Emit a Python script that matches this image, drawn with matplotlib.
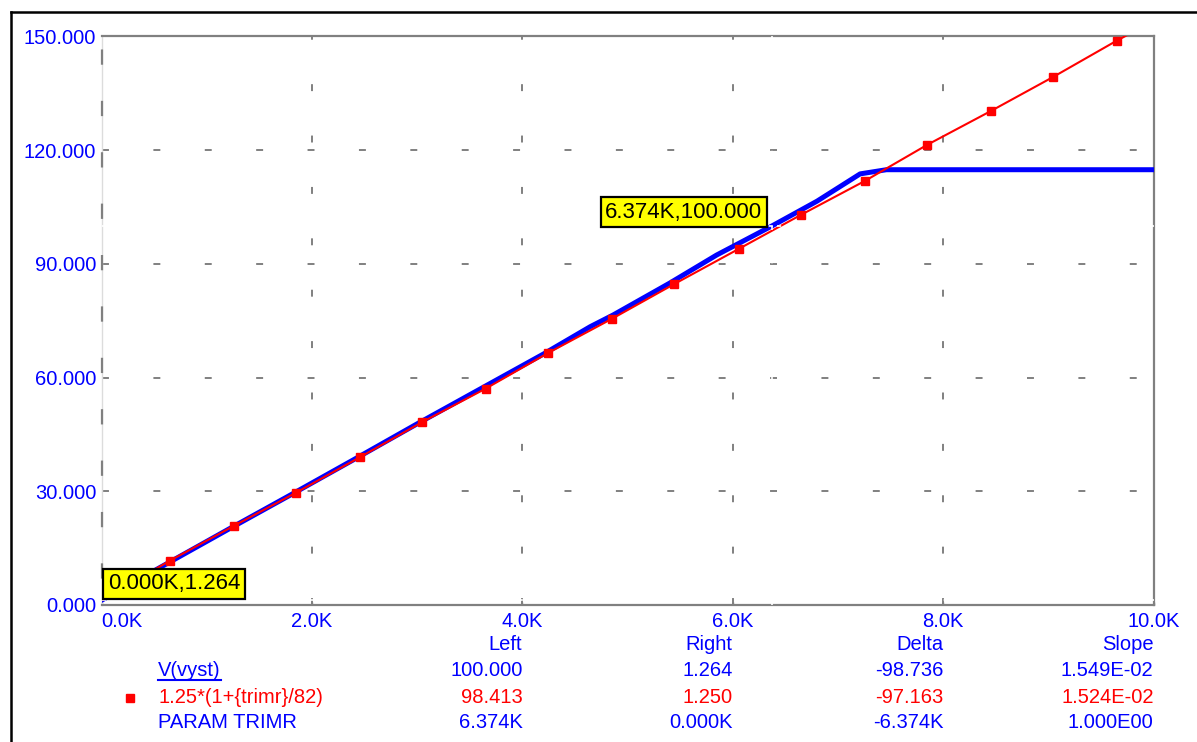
import matplotlib
matplotlib.use("Agg")
import matplotlib.pyplot as plt
from matplotlib.lines import Line2D
from matplotlib.transforms import blended_transform_factory

plt.rcParams["font.family"] = ["Liberation Sans", "DejaVu Sans"]
plt.rcParams["lines.scale_dashes"] = False

BLUE = "#0000ff"
RED = "#ff0000"
GRAY = "#808080"
FS = 14.5

W, H = 1197, 742

# trimr sweep (K) against V(vyst)
vyst_x = [0.0, 0.6, 1.2, 1.8, 2.4, 3.0, 3.6, 4.2, 4.644, 4.863, 5.4, 5.846,
          6.374, 6.8, 7.21, 7.46, 10.0]
vyst_y = [1.264, 10.6, 19.9, 29.1, 38.4, 47.8, 57.0, 66.2, 73.4, 76.5, 84.9,
          92.3, 100.0, 106.5, 113.7, 114.8, 114.8]

# 1.25*(1+{trimr}/82), marker samples plus the end points of the trace
calc_x = [0.0, 0.648, 1.254, 1.848, 2.454, 3.045, 3.650, 4.245, 4.854, 5.441,
          6.057, 6.648, 7.257, 7.848, 8.457, 9.048, 9.648, 10.0]
calc_y = [1.25, 11.69, 20.84, 29.63, 38.97, 48.21, 57.07, 66.49, 75.54, 84.62,
          93.93, 102.90, 111.87, 121.37, 130.34, 139.31, 148.81, 154.0]

x_ticks = [0, 2, 4, 6, 8, 10]
x_labels = ["0.0K", "2.0K", "4.0K", "6.0K", "8.0K", "10.0K"]
y_ticks = [0, 30, 60, 90, 120, 150]
y_labels = ["0.000", "30.000", "60.000", "90.000", "120.000", "150.000"]

# cursor readouts
cursor_a = (6.374, 100.0)
cursor_b = (0.0, 1.264)
columns = ["Left", "Right", "Delta", "Slope"]
column_x = [4.0, 6.0, 8.0, 10.0]
trace_names = ["V(vyst)", "1.25*(1+{trimr}/82)", "PARAM TRIMR"]
trace_colors = [BLUE, RED, BLUE]
readouts = [
    ["100.000", "1.264", "-98.736", "1.549E-02"],
    ["98.413", "1.250", "-97.163", "1.524E-02"],
    ["6.374K", "0.000K", "-6.374K", "1.000E00"],
]

fig = plt.figure(figsize=(W / 100, H / 100), dpi=100)
ax = fig.add_axes([101.7 / W, (H - 605) / H, (1153.6 - 101.7) / W, (605 - 36.25) / H])
ax.set_xlim(0, 10)
ax.set_ylim(0, 150)

# dashed grid
for yv in y_ticks[1:-1]:
    ax.axhline(yv, color=GRAY, lw=1.4, ls=(0, (5, 32)), zorder=1)
for xv in x_ticks[1:-1]:
    ax.axvline(xv, color=GRAY, lw=1.4, ls=(0, (5, 32)), zorder=1)
ax.axvline(0, color=GRAY, lw=1.6, ls=(18, (11, 26)), zorder=2.6, clip_on=False)

ax.plot(vyst_x, vyst_y, color=BLUE, lw=3.6, zorder=3, solid_joinstyle="round")
ax.plot(calc_x, calc_y, color=RED, lw=1.5, marker="s", ms=6,
        markevery=list(range(1, len(calc_x) - 1)), zorder=4)

# cursor crosshairs
ax.axvline(cursor_a[0], color="white", lw=1.2, ls=(0, (3, 3)), zorder=5)
ax.axhline(cursor_a[1], color="white", lw=1.2, ls=(0, (3, 3)), zorder=5)
ax.axhline(cursor_b[1], color="white", lw=1.2, ls=(0, (3, 3)), zorder=5)

box = dict(boxstyle="square,pad=0.2", fc="#ffff00", ec="black", lw=1.6)
ax.annotate(f"{cursor_a[0]:.3f}K,{cursor_a[1]:.3f}", xy=cursor_a,
            xytext=(-10, 3), textcoords="offset pixels", ha="right", va="bottom",
            fontsize=16, color="black", bbox=box, zorder=6)
ax.annotate(f"{cursor_b[0]:.3f}K,{cursor_b[1]:.3f}", xy=cursor_b,
            xytext=(6, 6), textcoords="offset pixels", ha="left", va="bottom",
            fontsize=16, color="black", bbox=box, zorder=6, annotation_clip=False)

ax.set_xticks(x_ticks)
ax.set_xticklabels(x_labels)
ax.set_yticks(y_ticks)
ax.set_yticklabels(y_labels)
ax.tick_params(axis="x", length=2, width=1, direction="in", color=GRAY,
               labelcolor=BLUE, labelsize=FS, pad=5)
ax.tick_params(axis="y", length=0, labelcolor=BLUE, labelsize=FS, pad=4)
ax.get_xticklabels()[0].set_ha("left")

for side in ("top", "right", "bottom"):
    ax.spines[side].set_color(GRAY)
    ax.spines[side].set_linewidth(1.6)
ax.spines["left"].set_color("#dcdcdc")
ax.spines["left"].set_linewidth(1.0)

# cursor readout table under the plot
tr = blended_transform_factory(ax.transData, fig.transFigure)
row_y = [645, 671, 697.5, 723]
for cx, name in zip(column_x, columns):
    fig.text(cx, 1 - row_y[0] / H, name, transform=tr, ha="right", va="center",
             fontsize=FS, color=BLUE)
name_texts = []
for i, (name, col, vals) in enumerate(zip(trace_names, trace_colors, readouts)):
    yy = 1 - row_y[i + 1] / H
    name_texts.append(fig.text(158 / W, yy, name, ha="left", va="center",
                               fontsize=FS, color=col))
    for cx, v in zip(column_x, vals):
        fig.text(cx, yy, v, transform=tr, ha="right", va="center",
                 fontsize=FS, color=col)

fig.add_artist(Line2D([130 / W], [1 - row_y[2] / H], marker="s", ms=6,
                      color=RED, ls="none"))

# underline marks the blue trace entry
fig.canvas.draw()
bb = name_texts[0].get_window_extent()
fig.add_artist(Line2D([bb.x0 / W, bb.x1 / W], [(bb.y0 + 1) / H] * 2,
                      color=BLUE, lw=1.5))

# window frame
fig.add_artist(Line2D([11 / W, 1], [1 - 12 / H] * 2, color="black", lw=1.8))
fig.add_artist(Line2D([11 / W] * 2, [0, 1 - 12 / H], color="black", lw=1.8))

fig.savefig("out.png", dpi=100)
